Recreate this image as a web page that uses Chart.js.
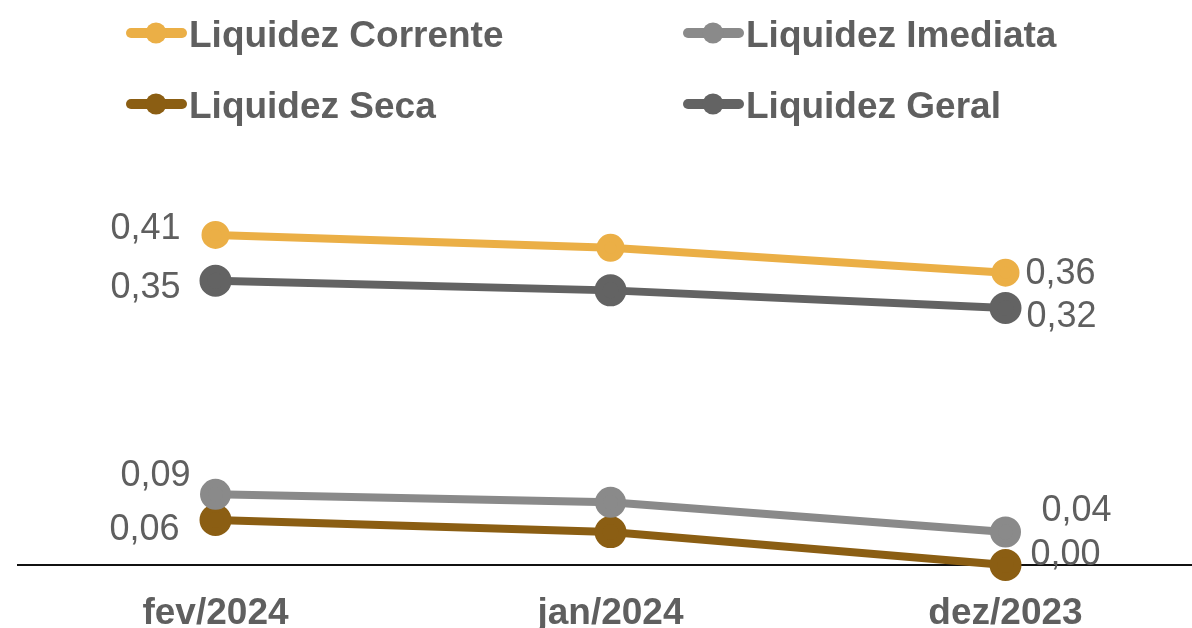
<!DOCTYPE html>
<html>
<head>
<meta charset="utf-8">
<script src="https://cdn.jsdelivr.net/npm/chart.js@4.4.1/dist/chart.umd.min.js"></script>
<style>
  html, body { margin:0; padding:0; background:#fff; overflow:hidden; }
  #wrap { width:1192px; height:628px; overflow:hidden; }
</style>
</head>
<body>
<div id="wrap"><canvas id="grafico" width="1203" height="628"></canvas></div>
<script>
let meses = ['fev/2024', 'jan/2024', 'dez/2023'];
let corrente = [0.411, 0.395, 0.364];
let imediata = [0.088, 0.078, 0.041];
let seca = [0.056, 0.041, 0.0];
let geral = [0.354, 0.342, 0.32];

let cinzaTexto = '#5f5f5f';

function fmt(v){
  return v.toFixed(2).replace('.', ',');
}

// rotulos so no primeiro e no ultimo ponto
let rotulos = {
  id: 'rotulos',
  afterDatasetsDraw(chart){
    let ctx = chart.ctx;
    ctx.save();
    ctx.font = '36px "Liberation Sans", Arial, sans-serif';
    ctx.fillStyle = cinzaTexto;
    ctx.textBaseline = 'alphabetic';
    chart.data.datasets.forEach(function(ds, i){
      let meta = chart.getDatasetMeta(i);
      let pts = meta.data;
      let p0 = pts[0], p1 = pts[pts.length-1];
      ctx.textAlign = 'right';
      ctx.fillText(fmt(ds.data[0]), p0.x + ds.rotIni[0], p0.y + ds.rotIni[1]);
      ctx.textAlign = 'left';
      ctx.fillText(fmt(ds.data[ds.data.length-1]), p1.x + ds.rotFim[0], p1.y + ds.rotFim[1]);
    });
    ctx.restore();
  }
};

// legenda em duas colunas
let legenda = {
  id: 'legenda',
  afterDraw(chart){
    let ctx = chart.ctx;
    ctx.save();
    ctx.font = 'bold 37px "Liberation Sans", Arial, sans-serif';
    ctx.textBaseline = 'alphabetic';
    ctx.textAlign = 'left';
    chart.data.datasets.forEach(function(ds){
      let x = ds.leg[0], y = ds.leg[1];
      ctx.strokeStyle = ds.borderColor;
      ctx.lineWidth = 10;
      ctx.lineCap = 'round';
      ctx.beginPath();
      ctx.moveTo(x + 5, y);
      ctx.lineTo(x + 56, y);
      ctx.stroke();
      ctx.fillStyle = ds.borderColor;
      ctx.beginPath();
      ctx.arc(x + 30, y, 10.5, 0, Math.PI*2);
      ctx.fill();
      ctx.fillStyle = cinzaTexto;
      ctx.fillText(ds.label, x + 63, y + 14);
    });
    ctx.restore();
  }
};

let ctx = document.getElementById('grafico').getContext('2d');
let chart = new Chart(ctx, {
  type: 'line',
  data: {
    labels: meses,
    datasets: [
      {
        label: 'Liquidez Corrente',
        data: corrente,
        borderColor: '#ebaf46',
        backgroundColor: '#ebaf46',
        borderWidth: 8,
        pointRadius: 10,
        rotIni: [-35, 4], rotFim: [20, 11],
        leg: [126, 33]
      },
      {
        label: 'Liquidez Imediata',
        data: imediata,
        borderColor: '#8a8a8a',
        backgroundColor: '#8a8a8a',
        borderWidth: 8,
        pointRadius: 11.5,
        rotIni: [-25, -8], rotFim: [36, -11],
        leg: [683, 33]
      },
      {
        label: 'Liquidez Seca',
        data: seca,
        borderColor: '#8b5e13',
        backgroundColor: '#8b5e13',
        borderWidth: 8,
        pointRadius: 12,
        rotIni: [-36, 20], rotFim: [25, 0],
        leg: [126, 104]
      },
      {
        label: 'Liquidez Geral',
        data: geral,
        borderColor: '#636363',
        backgroundColor: '#636363',
        borderWidth: 8,
        pointRadius: 12,
        rotIni: [-35, 17], rotFim: [21, 19],
        leg: [683, 104]
      }
    ]
  },
  options: {
    responsive: false,
    animation: false,
    clip: false,
    layout: { autoPadding: false, padding: { left: 18, right: 0, top: 163.5, bottom: 0 } },
    plugins: { legend: { display: false }, tooltip: { enabled: false } },
    elements: { line: { tension: 0 }, point: { borderWidth: 0, hoverRadius: 12 } },
    scales: {
      x: {
        offset: true,
        grid: { display: false },
        border: { display: true, color: '#111', width: 2 },
        ticks: { color: cinzaTexto, font: { family: '"Liberation Sans", Arial, sans-serif', size: 37, weight: 'bold' }, padding: 19 },
        afterFit: function(s){ s.height = 63; }
      },
      y: {
        display: false,
        min: 0,
        max: 0.5
      }
    }
  },
  plugins: [rotulos, legenda]
});
</script>
</body>
</html>
